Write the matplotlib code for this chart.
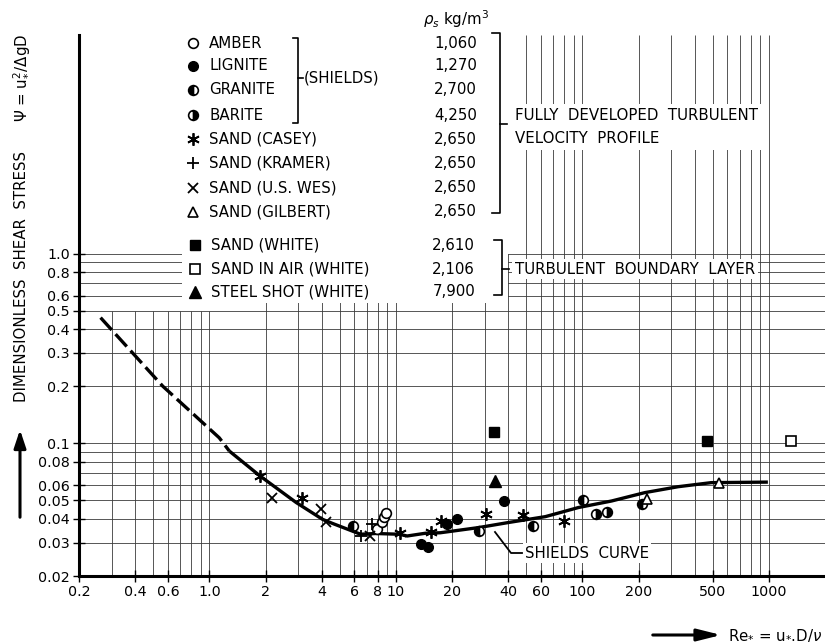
import matplotlib
matplotlib.use('Agg')
import matplotlib.pyplot as plt
from matplotlib.lines import Line2D
from matplotlib.patches import Rectangle, FancyArrowPatch
from matplotlib.ticker import NullLocator, FixedLocator, FixedFormatter

plt.rcParams['font.family'] = ['DejaVu Sans']

# ---------------- data ----------------
amber_re = [7.9, 8.4, 8.6, 8.8]
amber_psi = [0.0353, 0.0383, 0.0407, 0.0431]
lignite_re = [13.6, 14.8, 18.8, 21.3, 37.8]
lignite_psi = [0.0295, 0.0286, 0.0378, 0.0398, 0.0497]
granite_re = [5.9, 28.0, 54.7, 100.4, 207.6]
granite_psi = [0.0365, 0.0347, 0.0367, 0.0504, 0.0477]
barite_re = [119, 135]
barite_psi = [0.0426, 0.0436]
casey_re = [1.87, 3.13, 10.5, 15.4, 17.5, 30.5, 47.8, 80.1]
casey_psi = [0.0673, 0.0518, 0.0335, 0.0341, 0.0388, 0.0423, 0.042, 0.039]
kramer_re = [6.47, 7.47]
kramer_psi = [0.0325, 0.0375]
wes_re = [2.18, 3.99, 4.24, 7.3]
wes_psi = [0.0514, 0.045, 0.0383, 0.0325]
gilbert_re = [221, 538]
gilbert_psi = [0.0512, 0.0621]
white_re = [33.4, 468]
white_psi = [0.1147, 0.1028]
air_re = [1316]
air_psi = [0.1028]
steel_re = [34.1]
steel_psi = [0.0634]

curve_dash_re = [0.261, 0.563, 1.13, 1.28]
curve_dash_psi = [0.46, 0.2, 0.107, 0.0911]
curve_re = [1.28, 1.87, 2.92, 4.04, 4.56, 6.47, 7.8, 10.4, 11.5, 14.4, 17.3,
            27.8, 40.3, 63.3, 95.2, 143.5, 216, 326, 491, 988]
curve_psi = [0.0911, 0.0673, 0.0488, 0.0398, 0.0379, 0.0332, 0.0335, 0.0332,
             0.0325, 0.0336, 0.0338, 0.036, 0.0383, 0.0411, 0.0459, 0.0497,
             0.055, 0.0591, 0.0621, 0.0625]

x_ticks = [0.2, 0.4, 0.6, 1.0, 2, 4, 6, 8, 10, 20, 40, 60, 100, 200, 500, 1000]
x_ticklabels = ['0.2', '0.4', '0.6', '1.0', '2', '4', '6', '8', '10', '20',
                '40', '60', '100', '200', '500', '1000']
y_ticks = [0.02, 0.03, 0.04, 0.05, 0.06, 0.08, 0.1, 0.2, 0.3, 0.4, 0.5, 0.6, 0.8, 1.0]
y_ticklabels = ['0.02', '0.03', '0.04', '0.05', '0.06', '0.08', '0.1', '0.2',
                '0.3', '0.4', '0.5', '0.6', '0.8', '1.0']

legend_names_a = ['AMBER', 'LIGNITE', 'GRANITE', 'BARITE', 'SAND (CASEY)',
                  'SAND (KRAMER)', 'SAND (U.S. WES)', 'SAND (GILBERT)']
legend_rho_a = ['1,060', '1,270', '2,700', '4,250', '2,650', '2,650', '2,650', '2,650']
legend_names_b = ['SAND (WHITE)', 'SAND IN AIR (WHITE)', 'STEEL SHOT (WHITE)']
legend_rho_b = ['2,610', '2,106', '7,900']

# ---------------- styles ----------------
K = 'black'
styles = {
    'amber': dict(marker='o', ms=7, mfc='white', mec=K, mew=1.2),
    'lignite': dict(marker='o', ms=7, mfc=K, mec=K),
    'granite': dict(marker='o', ms=7, mfc=K, mec=K, fillstyle='left', markerfacecoloralt='white', mew=1.2),
    'barite': dict(marker='o', ms=7, mfc=K, mec=K, fillstyle='right', markerfacecoloralt='white', mew=1.2),
    'casey': dict(marker=(6, 2, 0), ms=9, mec=K, mew=1.3),
    'kramer': dict(marker='+', ms=8, mec=K, mew=1.3),
    'wes': dict(marker='x', ms=6.5, mec=K, mew=1.3),
    'gilbert': dict(marker='^', ms=7, mfc='white', mec=K, mew=1.2),
    'white': dict(marker='s', ms=7, mfc=K, mec=K),
    'air': dict(marker='s', ms=7, mfc='white', mec=K, mew=1.2),
    'steel': dict(marker='^', ms=8, mfc=K, mec=K),
}

W, H = 825, 643
fig = plt.figure(figsize=(W / 100, H / 100), dpi=100, facecolor='white')
L, R, B, T = 79, 825, 576, 35
ax = fig.add_axes([L / W, 1 - B / H, (R - L) / W, (B - T) / H])
ax.set_xscale('log')
ax.set_yscale('log')
ax.set_xlim(0.2, 2000)
ax.set_ylim(0.02, 14.2)

# ---------------- grid ----------------
gl = dict(color='#3a3a3a', lw=0.6, zorder=1)
vx = [0.3, 0.4, 0.5, 0.6, 0.7, 0.8, 0.9, 1.0] + list(range(2, 10)) + \
     list(range(10, 100, 10)) + list(range(100, 1000, 100)) + [1000]
for v in vx:
    if v <= 1.0:
        top = 0.5
    elif v < 50:
        top = 1.0
    else:
        top = 14.2
    ax.vlines(v, 0.02, top, **gl)
hy = [0.03, 0.04, 0.05, 0.06, 0.07, 0.08, 0.09, 0.1, 0.2, 0.3, 0.4, 0.5,
      0.6, 0.7, 0.8, 0.9, 1.0]
for h in hy:
    ax.hlines(h, 0.2, 2000, **gl)

# ---------------- Shields curve ----------------
ax.plot(curve_dash_re, curve_dash_psi, color=K, lw=2.4, dashes=(5, 1.7), zorder=3)
ax.plot(curve_re, curve_psi, color=K, lw=2.4, zorder=3, solid_capstyle='butt')

# ---------------- data points ----------------
series = [('amber', amber_re, amber_psi), ('lignite', lignite_re, lignite_psi),
          ('granite', granite_re, granite_psi), ('barite', barite_re, barite_psi),
          ('casey', casey_re, casey_psi), ('kramer', kramer_re, kramer_psi),
          ('wes', wes_re, wes_psi), ('gilbert', gilbert_re, gilbert_psi),
          ('white', white_re, white_psi), ('air', air_re, air_psi),
          ('steel', steel_re, steel_psi)]
for key, xs, ys in series:
    ax.plot(xs, ys, ls='none', zorder=4, clip_on=False, **styles[key])

# ---------------- axes styling ----------------
for s in ['top', 'right']:
    ax.spines[s].set_visible(False)
for s in ['left', 'bottom']:
    ax.spines[s].set_linewidth(2.2)
ax.xaxis.set_major_locator(FixedLocator(x_ticks))
ax.xaxis.set_major_formatter(FixedFormatter(x_ticklabels))
ax.yaxis.set_major_locator(FixedLocator(y_ticks))
ax.yaxis.set_major_formatter(FixedFormatter(y_ticklabels))
ax.xaxis.set_minor_locator(NullLocator())
ax.yaxis.set_minor_locator(NullLocator())
ax.tick_params(direction='inout', length=9, width=1.0, labelsize=10.3, pad=2)
ax.set_facecolor('white')


def F(px, py):
    return (px / W, 1 - py / H)


def fline(pts, lw=1.2, z=3):
    xs = [p[0] / W for p in pts]
    ys = [1 - p[1] / H for p in pts]
    fig.add_artist(Line2D(xs, ys, color=K, lw=lw, transform=fig.transFigure, zorder=z))


def fmarker(px, py, key):
    x, y = F(px, py)
    fig.add_artist(Line2D([x], [y], ls='none', transform=fig.transFigure, zorder=4, **styles[key]))


# white box behind the lower legend block
x0, y0 = F(182, 303)
x1, y1 = F(508, 230)
fig.add_artist(Rectangle((x0, y0), x1 - x0, y1 - y0, transform=fig.transFigure,
                         facecolor='white', edgecolor='none', zorder=2))

FS = 10.8
# header
fig.text(*F(423, 19), r'$\rho_s$ kg/m$^3$', fontsize=FS, ha='left', va='center', zorder=5)

keys_a = ['amber', 'lignite', 'granite', 'barite', 'casey', 'kramer', 'wes', 'gilbert']
rows_a = [43, 66, 90, 115, 139, 163, 188, 212]
for k, name, rho, ry in zip(keys_a, legend_names_a, legend_rho_a, rows_a):
    fmarker(193, ry, k)
    fig.text(*F(209, ry), name, fontsize=FS, ha='left', va='center', zorder=5)
    fig.text(*F(477, ry), rho, fontsize=FS, ha='right', va='center', zorder=5)

keys_b = ['white', 'air', 'steel']
rows_b = [245, 269, 292]
for k, name, rho, ry in zip(keys_b, legend_names_b, legend_rho_b, rows_b):
    fmarker(195, ry, k)
    fig.text(*F(211, ry), name, fontsize=FS, ha='left', va='center', zorder=5)
    fig.text(*F(475, ry), rho, fontsize=FS, ha='right', va='center', zorder=5)

# brackets
fline([(293, 38), (298, 38), (298, 123), (293, 123)])
fline([(298, 78), (303, 78)])
fig.text(*F(304, 78), '(SHIELDS)', fontsize=FS, ha='left', va='center', zorder=5)

fline([(492, 33), (500, 33), (500, 213), (492, 213)])
fline([(500, 124), (507, 124)])
fig.text(*F(515, 127), 'FULLY  DEVELOPED  TURBULENT\nVELOCITY  PROFILE', fontsize=FS,
         ha='left', va='center', linespacing=1.6, zorder=5,
         bbox=dict(facecolor='white', edgecolor='none', pad=3))

fline([(494, 240), (502, 240), (502, 295), (494, 295)])
fline([(502, 269), (509, 269)])
fig.text(*F(515, 269), 'TURBULENT  BOUNDARY  LAYER', fontsize=FS, ha='left', va='center',
         zorder=5, bbox=dict(facecolor='white', edgecolor='none', pad=2))

# Shields curve label
fline([(495, 532), (511, 553), (522, 553)], lw=1.3)
fig.text(*F(525, 553), 'SHIELDS  CURVE', fontsize=FS, ha='left', va='center', zorder=5,
         bbox=dict(facecolor='white', edgecolor='none', pad=1.5))

# y-axis label
fig.text(*F(22, 276), 'DIMENSIONLESS  SHEAR  STRESS', fontsize=FS, rotation=90,
         ha='center', va='center')
fig.text(*F(22, 78), r'$\Psi$ = u$_{*}^{2}$/$\Delta$gD', fontsize=FS, rotation=90,
         ha='center', va='center')
fig.add_artist(FancyArrowPatch(F(20, 520), F(20, 427), transform=fig.transFigure,
                               arrowstyle='-|>,head_length=0.9,head_width=0.3',
                               mutation_scale=12, lw=2.2, color=K))

# x-axis label
fig.add_artist(FancyArrowPatch(F(650, 635), F(724, 635), transform=fig.transFigure,
                               arrowstyle='-|>,head_length=1.2,head_width=0.3',
                               mutation_scale=12, lw=2.2, color=K))
fig.text(*F(728, 635), r'Re$_{*}$ = u$_{*}$.D/$\nu$', fontsize=FS, ha='left', va='center')

fig.savefig('out.png', dpi=100, facecolor='white')
